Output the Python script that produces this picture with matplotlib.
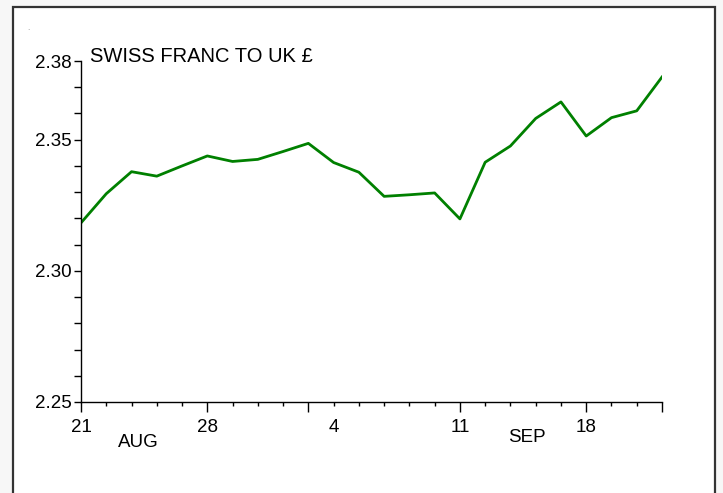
import matplotlib.pyplot as plt
from matplotlib.patches import Rectangle
from matplotlib.ticker import MultipleLocator, FixedLocator

# trading days, 21 Aug - 21 Sep
days = ['Aug 21', 'Aug 22', 'Aug 23', 'Aug 24', 'Aug 25',
        'Aug 28', 'Aug 29', 'Aug 30', 'Aug 31', 'Sep 1',
        'Sep 4', 'Sep 5', 'Sep 6', 'Sep 7', 'Sep 8',
        'Sep 11', 'Sep 12', 'Sep 13', 'Sep 14', 'Sep 15',
        'Sep 18', 'Sep 19', 'Sep 20', 'Sep 21']
rate = [2.3183, 2.3294, 2.3378, 2.3361, 2.3400,
        2.3438, 2.3417, 2.3425, 2.3455, 2.3486,
        2.3413, 2.3376, 2.3284, 2.3290, 2.3297,
        2.3198, 2.3414, 2.3476, 2.3581, 2.3644,
        2.3514, 2.3584, 2.3610, 2.3739]
labelled = ['Aug 21', 'Aug 28', 'Sep 4', 'Sep 11', 'Sep 18']
tick_text = ['21', '28', '4', '11', '18']
month_marks = ['Aug 21', 'Aug 28', 'Sep 1', 'Sep 11', 'Sep 18', 'Sep 21']

plt.rcParams['font.family'] = ['Liberation Sans Narrow', 'Liberation Sans', 'DejaVu Sans']

fig = plt.figure(figsize=(7.23, 4.93), dpi=100, facecolor='#f7f7f7')
W, H = 723, 493

# white panel with dark frame
fig.patches.append(Rectangle((13 / W, -10 / H), 702 / W, (486 + 10) / H,
                             transform=fig.transFigure, facecolor='white',
                             edgecolor='#333333', linewidth=1.6, zorder=-5))
fig.text(27 / W, 1 - 30 / H, '.', fontsize=6, color='#888888')

ax = fig.add_axes([81 / W, 91 / H, 581 / W, 341 / H])
ax.set_facecolor('none')

x = list(range(len(days)))
ax.plot(x, rate, color='#008000', linewidth=2.0)

ax.set_xlim(0, len(days) - 1)
ax.set_ylim(2.25, 2.38)
for s in ['top', 'right']:
    ax.spines[s].set_visible(False)
for s in ['left', 'bottom']:
    ax.spines[s].set_linewidth(1.0)

ax.set_yticks([2.25, 2.30, 2.35, 2.38])
ax.set_yticklabels(['2.25', '2.30', '2.35', '2.38'])
ax.yaxis.set_minor_locator(MultipleLocator(0.01))
ax.tick_params(axis='y', which='both', direction='out', length=5, width=1,
               labelsize=13.5, pad=2)

ax.set_xticks([days.index(d) for d in month_marks])
ax.set_xticklabels([''] * len(month_marks))
ax.xaxis.set_minor_locator(FixedLocator(x))
ax.tick_params(axis='x', which='major', direction='out', length=7, width=1)
ax.tick_params(axis='x', which='minor', direction='out', length=3, width=1)
for d, t in zip(labelled, tick_text):
    ax.text(days.index(d), -0.076, t, transform=ax.get_xaxis_transform(),
            ha='center', va='center', fontsize=13.5)

ax.text(2.26, -0.12, 'AUG', transform=ax.get_xaxis_transform(),
        ha='center', va='center', fontsize=13.5)
ax.text(17.66, -0.105, 'SEP', transform=ax.get_xaxis_transform(),
        ha='center', va='center', fontsize=13.5)

ax.text(0.015, 1.012, 'SWISS FRANC TO UK £', transform=ax.transAxes,
        ha='left', va='center', fontsize=14.5)

plt.savefig('out.png', dpi=100, facecolor=fig.get_facecolor())
